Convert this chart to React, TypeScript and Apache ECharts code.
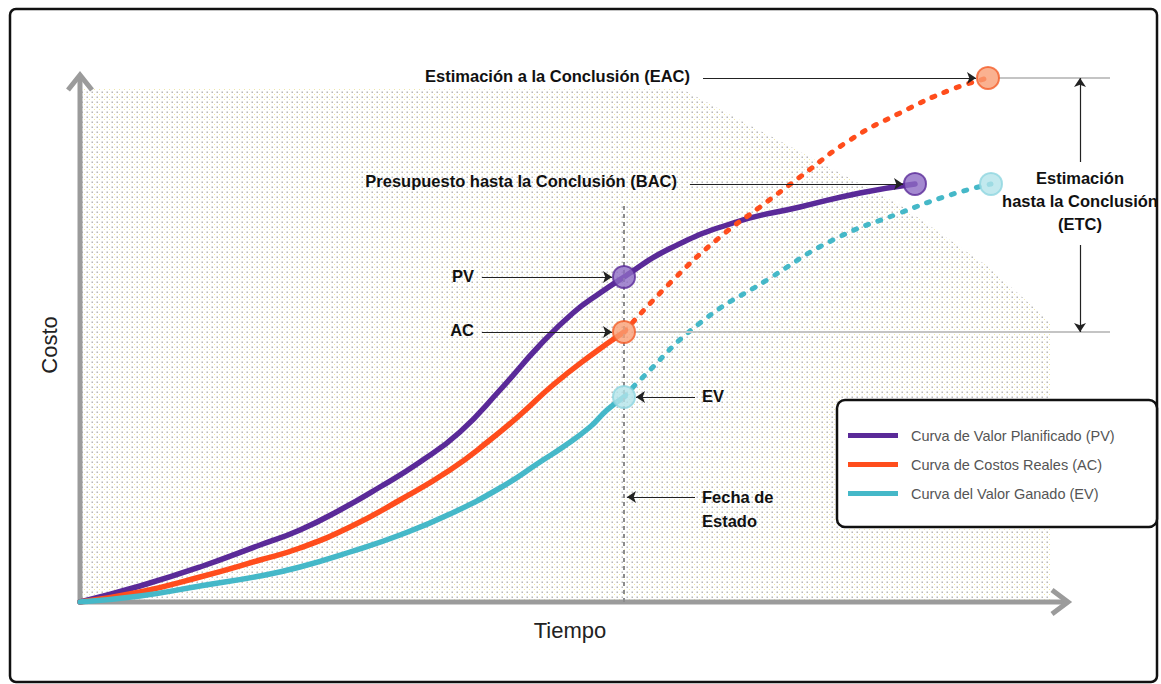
import React, { useEffect, useRef } from "react";
import * as echarts from "echarts";

// ---- data (x = tiempo, y = costo) ----
const pvCurve: number[][] = [[0,0],[6,3.2],[12,7],[18,11.4],[22,14.4],[26,18.4],[30,23],[34,28],[38,34],[42,42.4],[46,51.4],[49.3,57.8],[52,61.8],[54.4,65],[58.7,70.4],[65.3,75.8],[72,79],[78,81.8],[83.5,83.6]];
const acActual: number[][] = [[0,0],[6,2],[12,5],[18,8.4],[22,10.8],[27,15],[32,20.4],[37,26.4],[41,32.4],[44,37.4],[47.3,43.4],[51,49.2],[54.4,54]];
const acForecast: number[][] = [[54.4,54],[59.3,64.4],[64,73],[68,79],[72,85],[77,92.4],[82,97.8],[87,102.4],[90.8,104.8]];
const evActual: number[][] = [[0,0],[6,1.2],[12,3.2],[18,5.2],[22,7],[27,10],[32,13.4],[37,17.6],[42,22.8],[46,28],[48.3,31],[51,35],[52.7,38.4],[54.4,41]];
const evForecast: number[][] = [[54.4,41],[56,44.4],[62,55.8],[68.7,64.4],[75.3,72.4],[82,77.8],[87,81.4],[91.1,83.6]];

const statusDate = 54.4;
const pvPoint = [54.4, 65];
const acPoint = [54.4, 54];
const evPoint = [54.4, 41];
const bacPoint = [83.5, 83.6];
const eacPoint = [90.8, 104.8];
const etcPoint = [91.1, 83.6];

const legendNames = [
  "Curva de Valor Planificado (PV)",
  "Curva de Costos Reales (AC)",
  "Curva del Valor Ganado (EV)",
];

const PURPLE = "#5a2a98";
const ORANGE = "#ff4d1c";
const CYAN = "#45b8c8";
const F = "'Liberation Sans', Arial, sans-serif";

const tileSvg =
  "<svg xmlns='http://www.w3.org/2000/svg' width='5' height='5'>" +
  "<rect x='1.5' y='1.5' width='1.5' height='1.5' fill='#b8b8b8'/>" +
  "<rect x='4' y='4' width='1' height='1' fill='#efe8a8'/></svg>";
const tileUrl = "data:image/svg+xml;charset=utf-8," + encodeURIComponent(tileSvg);

export default function App() {
  const ref = useRef<HTMLDivElement>(null);
  useEffect(() => {
    if (!ref.current) return;
    const chart = echarts.init(ref.current, null, { renderer: "svg" });
    const label = (text: string, x: number, y: number, align: string, extra: any = {}) => ({
      type: "text",
      x,
      y,
      z: 10,
      style: {
        text,
        fontSize: 16.5,
        fontWeight: "bold",
        fontFamily: F,
        fill: "#111",
        align,
        textAlign: align,
        verticalAlign: "middle",
        textVerticalAlign: "middle",
        ...extra,
      },
    });
    const arrow = (a: number[], b: number[]) => [{ coord: a }, { coord: b }];
    const grayLine = (a: number[], b: number[], dashed = false) => [
      {
        coord: a,
        symbol: "none",
        lineStyle: dashed
          ? { color: "#8c8c8c", width: 2, type: [4, 4] }
          : { color: "#c4c4c4", width: 2, type: "solid" },
      },
      { coord: b, symbol: "none" },
    ];

    chart.setOption({
      animation: false,
      backgroundColor: "#fff",
      grid: { left: 80, right: 41, top: 72, bottom: 82 },
      xAxis: {
        type: "value",
        min: 0,
        max: 104,
        name: "Tiempo",
        nameLocation: "middle",
        nameGap: 17,
        nameTextStyle: { fontSize: 22, color: "#222", fontFamily: F, padding: [0, 60, 0, 0] },
        axisLine: { show: false },
        axisTick: { show: false },
        axisLabel: { show: false },
        splitLine: { show: false },
      },
      yAxis: {
        type: "value",
        min: 0,
        max: 106,
        name: "Costo",
        nameLocation: "middle",
        nameGap: 20,
        nameTextStyle: { fontSize: 22, color: "#222", fontFamily: F, padding: [0, 16, 0, 0] },
        axisLine: { show: false },
        axisTick: { show: false },
        axisLabel: { show: false },
        splitLine: { show: false },
      },
      legend: {
        data: legendNames,
        orient: "vertical",
        left: 848,
        top: 428,
        padding: 0,
        itemWidth: 50,
        itemHeight: 5,
        itemGap: 14,
        icon: "rect",
        selectedMode: false,
        z: 20,
        textStyle: { fontSize: 14.5, color: "#555", fontFamily: F, padding: [0, 0, 0, 8] },
      },
      graphic: [
        {
          type: "rect",
          z: 0,
          shape: { x: 10, y: 9, width: 1147, height: 673, r: 6 },
          style: { fill: "none", stroke: "#111", lineWidth: 2.5 },
        },
        {
          type: "polygon",
          z: 0,
          shape: {
            points: [[82, 88], [680, 88], [900, 205], [990, 268], [1050, 322], [1050, 600], [82, 600]],
          },
          style: { fill: { image: tileUrl, repeat: "repeat", imageWidth: 5, imageHeight: 5 } },
        },
        {
          type: "polyline",
          z: 1,
          shape: { points: [[80, 604], [80, 78]] },
          style: { stroke: "#9b9b9b", lineWidth: 5, fill: "none" },
        },
        {
          type: "polyline",
          z: 1,
          shape: { points: [[68, 90], [80, 75], [92, 90]] },
          style: { stroke: "#9b9b9b", lineWidth: 5, fill: "none" },
        },
        {
          type: "polyline",
          z: 1,
          shape: { points: [[78, 602], [1064, 602]] },
          style: { stroke: "#9b9b9b", lineWidth: 5, fill: "none" },
        },
        {
          type: "polyline",
          z: 1,
          shape: { points: [[1052, 590], [1068, 602], [1052, 614]] },
          style: { stroke: "#9b9b9b", lineWidth: 5, fill: "none" },
        },
        {
          type: "rect",
          z: 1,
          shape: { x: 837, y: 400, width: 320, height: 127, r: 8 },
          style: { fill: "#fff", stroke: "#111", lineWidth: 2.5 },
        },
        label("Estimación a la Conclusión (EAC)", 690, 76, "right"),
        label("Presupuesto hasta la Conclusión (BAC)", 677, 181, "right"),
        label("PV", 474, 276, "right"),
        label("AC", 474, 330, "right"),
        label("EV", 702, 396, "left"),
        label("Fecha de\nEstado", 702, 509, "left", { lineHeight: 24 }),
        label("Estimación\nhasta la Conclusión\n(ETC)", 1080, 201, "center", { lineHeight: 23 }),
      ],
      series: [
        {
          name: legendNames[0],
          type: "line",
          data: pvCurve,
          smooth: 0.5,
          showSymbol: false,
          color: PURPLE,
          lineStyle: { width: 5.5, color: PURPLE, cap: "round" },
          z: 3,
        },
        {
          name: legendNames[1],
          type: "line",
          data: acActual,
          smooth: 0.5,
          showSymbol: false,
          color: ORANGE,
          lineStyle: { width: 5.5, color: ORANGE, cap: "round" },
          z: 3,
        },
        {
          name: "AC pronóstico",
          type: "line",
          data: acForecast,
          smooth: 0.5,
          showSymbol: false,
          color: ORANGE,
          lineStyle: { width: 5, color: ORANGE, type: [3, 10], cap: "round" },
          z: 3,
        },
        {
          name: legendNames[2],
          type: "line",
          data: evActual,
          smooth: 0.5,
          showSymbol: false,
          color: CYAN,
          lineStyle: { width: 5.5, color: CYAN, cap: "round" },
          z: 3,
        },
        {
          name: "EV pronóstico",
          type: "line",
          data: evForecast,
          smooth: 0.5,
          showSymbol: false,
          color: CYAN,
          lineStyle: { width: 5, color: CYAN, type: [3, 10], cap: "round" },
          z: 3,
          markLine: {
            silent: true,
            symbol: ["none", "none"],
            label: { show: false },
            data: [
              grayLine([statusDate, 0], [statusDate, 79.4], true),
              grayLine([eacPoint[0] + 1.1, eacPoint[1]], [103, eacPoint[1]]),
              grayLine([acPoint[0] + 1.1, acPoint[1]], [103, acPoint[1]]),
            ],
          },
        },
        {
          name: "puntos",
          type: "scatter",
          symbolSize: 22,
          clip: false,
          z: 6,
          data: [
            { value: pvPoint, itemStyle: { color: "#8d6cc4", borderColor: PURPLE, borderWidth: 2 } },
            { value: bacPoint, itemStyle: { color: "#8d6cc4", borderColor: PURPLE, borderWidth: 2 } },
            { value: acPoint, itemStyle: { color: "#f99d74", borderColor: "#f45d28", borderWidth: 2 } },
            { value: eacPoint, itemStyle: { color: "#f99d74", borderColor: "#f45d28", borderWidth: 2 } },
            { value: evPoint, itemStyle: { color: "#b3e3ea", borderColor: "#8fd6e0", borderWidth: 2 } },
            { value: etcPoint, itemStyle: { color: "#b3e3ea", borderColor: "#8fd6e0", borderWidth: 2 } },
          ],
          markLine: {
            silent: true,
            symbol: ["none", "arrow"],
            symbolSize: 9,
            label: { show: false },
            lineStyle: { color: "#222", width: 1.2, type: "solid" },
            data: [
              arrow([62.3, eacPoint[1]], [89.6, eacPoint[1]]),
              arrow([61, bacPoint[1]], [82.3, bacPoint[1]]),
              arrow([40.2, pvPoint[1]], [53.2, pvPoint[1]]),
              arrow([40.2, acPoint[1]], [53.2, acPoint[1]]),
              arrow([61.5, evPoint[1]], [55.6, evPoint[1]]),
              arrow([61.5, 21], [54.7, 21]),
              arrow([100, 88], [100, eacPoint[1]]),
              arrow([100, 71.4], [100, acPoint[1]]),
            ],
          },
        },
      ],
    });
    return () => chart.dispose();
  }, []);
  return (
    <div
      ref={ref}
      style={{ position: "absolute", left: 0, top: 0, width: 1161, height: 684, background: "#fff" }}
    />
  );
}
